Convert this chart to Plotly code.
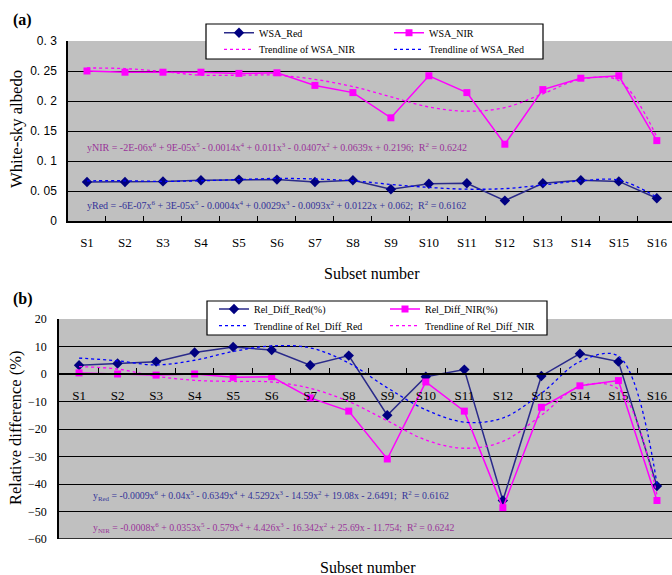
import plotly.graph_objects as go

categories = ["S1", "S2", "S3", "S4", "S5", "S6", "S7", "S8", "S9", "S10", "S11", "S12", "S13", "S14", "S15", "S16"]

wsa_red = [0.065, 0.065, 0.066, 0.068, 0.069, 0.069, 0.065, 0.068, 0.053, 0.062, 0.063, 0.034, 0.063, 0.068, 0.066, 0.038]
wsa_nir = [0.250, 0.248, 0.248, 0.248, 0.246, 0.247, 0.226, 0.214, 0.172, 0.242, 0.214, 0.128, 0.219, 0.238, 0.242, 0.134]
trend_wsa_nir = [0.255, 0.254, 0.249, 0.243, 0.243, 0.243, 0.236, 0.224, 0.207, 0.190, 0.183, 0.189, 0.212, 0.236, 0.234, 0.140]
trend_wsa_red = [0.067, 0.067, 0.066, 0.067, 0.069, 0.071, 0.070, 0.067, 0.061, 0.056, 0.053, 0.054, 0.060, 0.067, 0.068, 0.040]

rel_red = [3.2, 3.8, 4.5, 7.8, 9.8, 8.7, 3.2, 6.7, -15.0, -1.0, 1.6, -46.0, -0.7, 7.4, 4.5, -40.7]
rel_nir = [0.4, 0.0, -0.4, 0.0, -1.2, -1.0, -8.7, -13.5, -30.9, -2.9, -13.5, -48.6, -12.1, -4.3, -2.4, -46.0]
trend_rel_red = [5.8, 4.8, 3.3, 5.0, 8.2, 10.2, 9.5, 4.0, -5.0, -13.0, -17.5, -16.0, -7.0, 4.5, 6.5, -40.0]
trend_rel_nir = [2.7, 1.8, -0.8, -2.3, -2.7, -2.9, -5.2, -10.0, -17.0, -24.0, -27.0, -24.5, -15.0, -4.5, -5.5, -44.0]

top_ticks = [0, 0.05, 0.1, 0.15, 0.2, 0.25, 0.3]
top_ticktext = ["0", "0. 05", "0. 1", "0. 15", "0. 2", "0. 25", "0. 3"]
bot_ticks = [-60, -50, -40, -30, -20, -10, 0, 10, 20]

xs = list(range(len(categories)))
bounds = [i + 0.5 for i in range(len(categories))]

SERIF = "Liberation Serif, Times New Roman, serif"
SANS = "Liberation Sans, Arial, sans-serif"
NAVY = "#000080"
NAVYLINE = "#2a2a8a"
MAG = "#FF00FF"
BLUE = "#0000FF"
BG = "#C0C0C0"

W, H = 672, 575
def px(v):
    return v / W
def py(v):
    return 1 - v / H

fig = go.Figure()

def line_marker(x, y, name, color, lcolor, symbol, size, xa, ya, lg):
    fig.add_trace(go.Scatter(x=x, y=y, name=name, mode="lines+markers",
                             line=dict(color=lcolor, width=1.5),
                             marker=dict(symbol=symbol, size=size, color=color),
                             xaxis=xa, yaxis=ya, legend=lg))

def trend(x, y, name, color, xa, ya, lg):
    fig.add_trace(go.Scatter(x=x, y=y, name=name, mode="lines",
                             line=dict(color=color, width=1.3, dash="dot", shape="spline"),
                             xaxis=xa, yaxis=ya, legend=lg))

# Top chart
line_marker(xs, wsa_red, "WSA_Red", NAVY, NAVYLINE, "diamond", 8, "x", "y", "legend")
line_marker(xs, wsa_nir, "WSA_NIR", MAG, MAG, "square", 7, "x", "y", "legend2")
trend(xs, trend_wsa_nir, "Trendline of WSA_NIR", MAG, "x", "y", "legend3")
trend(xs, trend_wsa_red, "Trendline of WSA_Red", BLUE, "x", "y", "legend4")

# Bottom chart
line_marker(xs, rel_red, "Rel_Diff_Red(%)", NAVY, NAVYLINE, "diamond", 8, "x2", "y2", "legend5")
line_marker(xs, rel_nir, "Rel_Diff_NIR(%)", MAG, MAG, "square", 7, "x2", "y2", "legend6")
trend(xs, trend_rel_red, "Trendline of Rel_Diff_Red", BLUE, "x2", "y2", "legend7")
trend(xs, trend_rel_nir, "Trendline of Rel_Diff_NIR", MAG, "x2", "y2", "legend8")

def leg(x, y):
    return dict(x=px(x), y=py(y), xanchor="left", yanchor="top", orientation="v",
                bgcolor="rgba(0,0,0,0)", borderwidth=0,
                font=dict(family=SERIF, size=10, color="black"),
                tracegroupgap=0, itemwidth=30)

fig.update_layout(
    width=W, height=H,
    margin=dict(l=0, r=0, t=0, b=0, autoexpand=False),
    paper_bgcolor="white",
    plot_bgcolor=BG,
    xaxis=dict(domain=[px(68), 1], range=[-0.5, 15.4], anchor="y",
               tickmode="array", tickvals=xs, ticktext=categories, ticks="",
               showgrid=False, zeroline=False, showline=True, linecolor="black", linewidth=1.5,
               tickfont=dict(family=SERIF, size=13, color="black"), ticklabelstandoff=9,
               ticklabeloverflow="allow",
               minor=dict(tickmode="array", tickvals=bounds, ticks="inside", ticklen=5,
                          tickcolor="black", tickwidth=1, showgrid=False)),
    yaxis=dict(domain=[py(221), py(41)], range=[0, 0.3], anchor="x",
               tickmode="array", tickvals=top_ticks, ticktext=top_ticktext,
               showgrid=True, gridcolor="black", gridwidth=1.3, zeroline=False,
               showline=True, linecolor="black", linewidth=1.5, ticks="",
               tickfont=dict(family=SANS, size=12, color="black"), ticklabelstandoff=7),
    xaxis2=dict(domain=[px(59), 1], range=[-0.52, 15.39], anchor="free", position=py(374),
                tickmode="array", tickvals=xs, ticktext=categories, ticks="",
                showgrid=False, zeroline=False, showline=True, linecolor="black", linewidth=1.5,
                tickfont=dict(family=SERIF, size=13, color="black"), ticklabelstandoff=10,
                ticklabeloverflow="allow",
                minor=dict(tickmode="array", tickvals=bounds, ticks="inside", ticklen=5,
                           tickcolor="black", tickwidth=1, showgrid=False)),
    yaxis2=dict(domain=[py(539), py(319)], range=[-60, 20], anchor="x2",
                tickmode="array", tickvals=bot_ticks,
                showgrid=True, gridcolor="black", gridwidth=1.3, zeroline=False,
                showline=True, linecolor="black", linewidth=1.5, ticks="",
                tickfont=dict(family=SERIF, size=12, color="black"), ticklabelstandoff=8),
    legend=leg(219, 18.2),
    legend2=leg(389, 18.2),
    legend3=leg(219, 34.8),
    legend4=leg(389, 34.8),
    legend5=leg(214, 294.5),
    legend6=leg(385, 294.5),
    legend7=leg(214, 311.2),
    legend8=leg(385, 311.2),
    showlegend=True,
)

# Legend frames
fig.add_shape(type="rect", xref="paper", yref="paper", x0=px(206), x1=px(543), y0=py(59), y1=py(24),
              fillcolor="white", line=dict(color="black", width=1.2), layer="above")
fig.add_shape(type="rect", xref="paper", yref="paper", x0=px(207), x1=px(547), y0=py(335), y1=py(301),
              fillcolor="white", line=dict(color="black", width=1.2), layer="above")
# Bottom border line of lower plot at -60
fig.add_shape(type="line", xref="x2 domain", yref="y2", x0=0, x1=1, y0=-60, y1=-60,
              line=dict(color="black", width=1.5))

EQ_NIR = "#993399"
EQ_RED = "#333399"
ann = [
    dict(text="<b>(a)</b>", x=px(12), y=py(20), font=dict(family=SERIF, size=16, color="black")),
    dict(text="<b>(b)</b>", x=px(12), y=py(299), font=dict(family=SERIF, size=16, color="black")),
    dict(text="yNIR = -2E-06x<sup>6</sup> + 9E-05x<sup>5</sup> - 0.0014x<sup>4</sup> + 0.011x<sup>3</sup> - 0.0407x<sup>2</sup> + 0.0639x + 0.2196;  R<sup>2</sup> = 0.6242",
         x=px(86), y=py(147), font=dict(family=SERIF, size=10, color=EQ_NIR)),
    dict(text="yRed = -6E-07x<sup>6</sup> + 3E-05x<sup>5</sup> - 0.0004x<sup>4</sup> + 0.0029x<sup>3</sup> - 0.0093x<sup>2</sup> + 0.0122x + 0.062;  R<sup>2</sup> = 0.6162",
         x=px(86), y=py(205), font=dict(family=SERIF, size=10, color=EQ_RED)),
    dict(text="y<sub>Red</sub> = -0.0009x<sup>6</sup> + 0.04x<sup>5</sup> - 0.6349x<sup>4</sup> + 4.5292x<sup>3</sup> - 14.59x<sup>2</sup> + 19.08x - 2.6491;  R<sup>2</sup> = 0.6162",
         x=px(92), y=py(495), font=dict(family=SERIF, size=9.8, color=EQ_RED)),
    dict(text="y<sub>NIR</sub> = -0.0008x<sup>6</sup> + 0.0353x<sup>5</sup> - 0.579x<sup>4</sup> + 4.426x<sup>3</sup> - 16.342x<sup>2</sup> + 25.69x - 11.754;  R<sup>2</sup> = 0.6242",
         x=px(92), y=py(527), font=dict(family=SERIF, size=9.8, color=EQ_NIR)),
]
for a in ann:
    fig.add_annotation(xref="paper", yref="paper", xanchor="left", yanchor="middle",
                       showarrow=False, borderpad=0, **a)

fig.add_annotation(text="Subset number", xref="paper", yref="paper", x=px(372), y=py(273),
                   xanchor="center", yanchor="middle", showarrow=False,
                   font=dict(family=SERIF, size=16, color="black"))
fig.add_annotation(text="Subset number", xref="paper", yref="paper", x=px(368), y=py(567),
                   xanchor="center", yanchor="middle", showarrow=False,
                   font=dict(family=SERIF, size=16, color="black"))
fig.add_annotation(text="White-sky albedo", xref="paper", yref="paper", x=px(17), y=py(129),
                   xanchor="center", yanchor="middle", textangle=-90, showarrow=False,
                   font=dict(family=SERIF, size=16.7, color="black"))
fig.add_annotation(text="Relative difference (%)", xref="paper", yref="paper", x=px(15), y=py(428),
                   xanchor="center", yanchor="middle", textangle=-90, showarrow=False,
                   font=dict(family=SERIF, size=16.5, color="black"))

fig.write_html("out.html", config={"displayModeBar": False},
               post_script="document.body.style.margin='0px';document.body.style.overflow='hidden';")
